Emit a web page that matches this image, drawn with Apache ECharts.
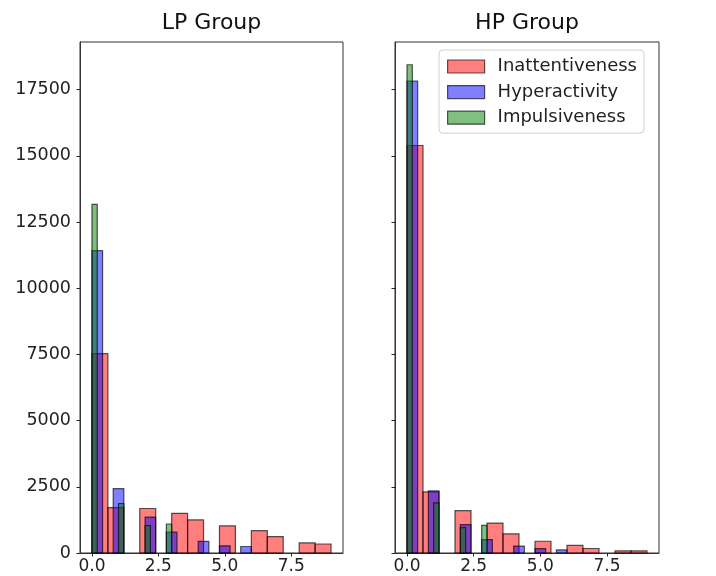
<!DOCTYPE html>
<html>
<head>
<meta charset="utf-8">
<title>LP / HP Group histograms</title>
<script src="https://cdn.jsdelivr.net/npm/echarts@6/dist/echarts.min.js"></script>
<style>
  html, body { margin: 0; padding: 0; background: #fff; }
  #chart { width: 716px; height: 576px; }
</style>
</head>
<body>
<div id="chart"></div>
<script>
// Histogram counts per bin (15 equal bins spanning each series' own range)
const seriesNames = ['Inattentiveness', 'Hyperactivity', 'Impulsiveness'];
const binRanges = [[0, 9], [0, 6], [0, 3]];
const binCount = 15;

const lpInattentiveness = [7530, 1715, 0, 1680, 0, 1500, 1250, 0, 1025, 0, 843, 622, 0, 383, 340];
const lpHyperactivity   = [11420, 0, 2428, 0, 0, 1358, 0, 786, 0, 0, 440, 0, 270, 0, 245];
const lpImpulsiveness   = [13170, 0, 0, 0, 0, 1870, 0, 0, 0, 0, 1038, 0, 0, 0, 1095];

const hpInattentiveness = [15390, 2310, 0, 1600, 0, 1132, 725, 0, 443, 0, 285, 170, 0, 80, 80];
const hpHyperactivity   = [17820, 0, 2345, 0, 0, 1070, 0, 505, 0, 0, 260, 0, 165, 0, 115];
const hpImpulsiveness   = [18440, 0, 0, 0, 0, 1895, 0, 0, 0, 0, 955, 0, 0, 0, 1045];

const panelTitles = ['LP Group', 'HP Group'];
const xTicks = [0, 2.5, 5, 7.5];
const yTicks = [0, 2500, 5000, 7500, 10000, 12500, 15000, 17500];

const fills = ['rgba(255,0,0,0.5)', 'rgba(0,0,255,0.5)', 'rgba(0,128,0,0.5)'];
const edge = 'rgba(0,0,0,0.65)';
const font = 'DejaVu Sans';

// turn a counts array into [lo, hi, count] rows
function toBins(counts, range) {
  const w = (range[1] - range[0]) / binCount;
  const rows = [];
  counts.forEach((c, i) => {
    if (c > 0) rows.push([range[0] + i * w, range[0] + (i + 1) * w, c]);
  });
  return rows;
}

function barRenderer(fill) {
  return function (params, api) {
    const p0 = api.coord([api.value(0), 0]);
    const p1 = api.coord([api.value(1), api.value(2)]);
    return {
      type: 'rect',
      shape: { x: p0[0], y: p1[1], width: p1[0] - p0[0], height: p0[1] - p1[1] },
      style: { fill: fill, stroke: edge, lineWidth: 1.2 }
    };
  };
}

const panels = [
  [lpInattentiveness, lpHyperactivity, lpImpulsiveness],
  [hpInattentiveness, hpHyperactivity, hpImpulsiveness]
];

const grids = [
  { left: 80, top: 42, width: 263, height: 511 },
  { left: 395, top: 42, width: 264, height: 511 }
];

const xAxes = grids.map((g, i) => ({
  type: 'value', gridIndex: i, min: -0.45, max: 9.45,
  splitLine: { show: false },
  axisLine: { show: true, onZero: false, lineStyle: { color: '#333', width: 1 } },
  axisTick: { show: true, length: 3.5, customValues: xTicks, lineStyle: { color: '#222' } },
  axisLabel: { show: true, customValues: xTicks, margin: 5, fontSize: 17, fontFamily: font, color: '#222',
               formatter: v => v.toFixed(1) }
}));

const yAxes = grids.map((g, i) => ({
  type: 'value', gridIndex: i, min: 0, max: 19300,
  splitLine: { show: false },
  axisLine: { show: true, onZero: false, lineStyle: { color: '#333', width: 1 } },
  axisTick: { show: true, length: 3.5, customValues: yTicks, lineStyle: { color: '#222' } },
  axisLabel: { show: i === 0, customValues: yTicks, margin: 9, fontSize: 17.5, fontFamily: font, color: '#222',
               formatter: v => String(v) }
}));

const series = [];
panels.forEach((counts, p) => {
  counts.forEach((c, s) => {
    series.push({
      type: 'custom',
      name: seriesNames[s],
      xAxisIndex: p, yAxisIndex: p,
      renderItem: barRenderer(fills[s]),
      itemStyle: { color: fills[s] },
      encode: { x: [0, 1], y: 2 },
      data: toBins(c, binRanges[s]),
      z: 2 + s
    });
  });
});

const chart = echarts.init(document.getElementById('chart'), null, { renderer: 'canvas' });
chart.setOption({
  animation: false,
  backgroundColor: '#fff',
  title: panelTitles.map((t, i) => ({
    text: t,
    left: i === 0 ? 211.5 : 527,
    textAlign: 'center',
    top: 12,
    padding: 0,
    textStyle: { fontSize: 22, fontWeight: 'normal', fontFamily: font, color: '#111' }
  })),
  legend: {
    orient: 'vertical',
    left: 439, top: 50,
    padding: [6, 7, 5, 8],
    itemGap: 4.6,
    itemWidth: 37, itemHeight: 13,
    backgroundColor: 'rgba(255,255,255,0.8)',
    borderColor: '#d0d0d0', borderWidth: 1, borderRadius: 4,
    textStyle: { fontSize: 18, fontFamily: font, color: '#222', padding: [0, 0, 0, 8], lineHeight: 21 },
    data: seriesNames.map((n, i) => ({
      name: n, icon: 'rect',
      itemStyle: { color: fills[i], borderColor: edge, borderWidth: 1.2 }
    }))
  },
  grid: grids.map(g => Object.assign({ show: true, borderColor: '#333', borderWidth: 1, backgroundColor: 'transparent', containLabel: false }, g)),
  xAxis: xAxes,
  yAxis: yAxes,
  series: series
});
</script>
</body>
</html>
